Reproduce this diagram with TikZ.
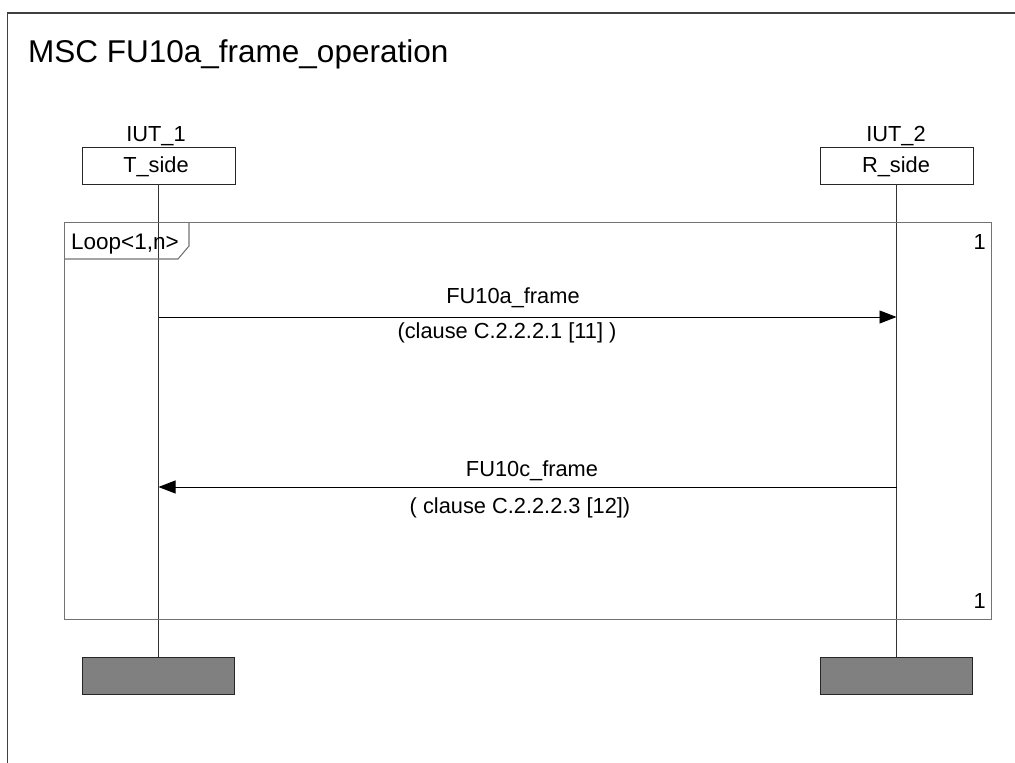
\documentclass[tikz,border=0pt]{standalone}
\usepackage{fontspec}
\setmainfont{Liberation Sans}
\usetikzlibrary{arrows.meta}
\begin{document}
\begin{tikzpicture}[x=1pt,y=-1pt,
  lbl/.style={inner sep=0pt, anchor=base, font=\fontsize{21.8}{24}\selectfont},
  headbox/.style={draw=black!85, line width=0.9pt, minimum width=153pt, minimum height=37pt, inner sep=0pt},
  endbox/.style={draw=black!85, fill=black!50, line width=0.9pt, minimum width=152pt, minimum height=37pt, inner sep=0pt},
  life/.style={draw=black!80, line width=0.9pt},
  msg/.style={draw=black, line width=0.9pt, -{Triangle[length=17pt,width=13pt]}},
  frameln/.style={draw=black!75, line width=1.2pt},
  loopln/.style={draw=black!55, line width=1.1pt}]
\useasboundingbox (0,0) rectangle (1015,763);
% outer frame
\draw[frameln] (7.5,763) -- (7.5,13) -- (1015,13);
\node[inner sep=0pt, anchor=base west, font=\fontsize{31.5}{34}\selectfont] (title) at (28,62) {MSC FU10a\_frame\_operation};
% instance heads
\node[headbox] (h1) at (158.5,165.5) {};
\node[headbox] (h2) at (896.5,165.5) {};
\node[lbl] (t1) at (156,172) {T\_side};
\node[lbl] (t2) at (896,172) {R\_side};
\node[lbl] (n1) at (156,141) {IUT\_1};
\node[lbl] (n2) at (896,141) {IUT\_2};
% end boxes
\node[endbox] (e1) at (158.5,675.5) {};
\node[endbox] (e2) at (896.5,675.5) {};
% lifelines
\draw[life] (h1.south) -- (e1.north);
\draw[life] (h2.south) -- (e2.north);
% loop frame
\node[loopln, draw, minimum width=927pt, minimum height=397pt, inner sep=0pt, anchor=north west] (loop) at (64,222) {};
\draw[loopln] (64,259) -- (178,259) -- (189,246) -- (189,222);
\node[lbl, anchor=base west, font=\fontsize{22.5}{24}\selectfont] (looplbl) at (71,249) {Loop<1,n>};
\node[lbl, anchor=base east] (c1) at (986,249) {1};
\node[lbl, anchor=base east] (c2) at (986,608) {1};
% messages
\coordinate (a1) at (158.5,317);
\coordinate (b1) at (896.5,317);
\coordinate (a2) at (158.5,487);
\coordinate (b2) at (896.5,487);
\draw[msg] (a1) -- (b1);
\draw[msg] (b2) -- (a2);
\node[lbl] (m1) at (513,303) {FU10a\_frame};
\node[lbl] (m1c) at (507,338) {(clause C.2.2.2.1 [11] )};
\node[lbl] (m2) at (532,476) {FU10c\_frame};
\node[lbl] (m2c) at (520,513) {( clause C.2.2.2.3 [12])};
\end{tikzpicture}
\end{document}
